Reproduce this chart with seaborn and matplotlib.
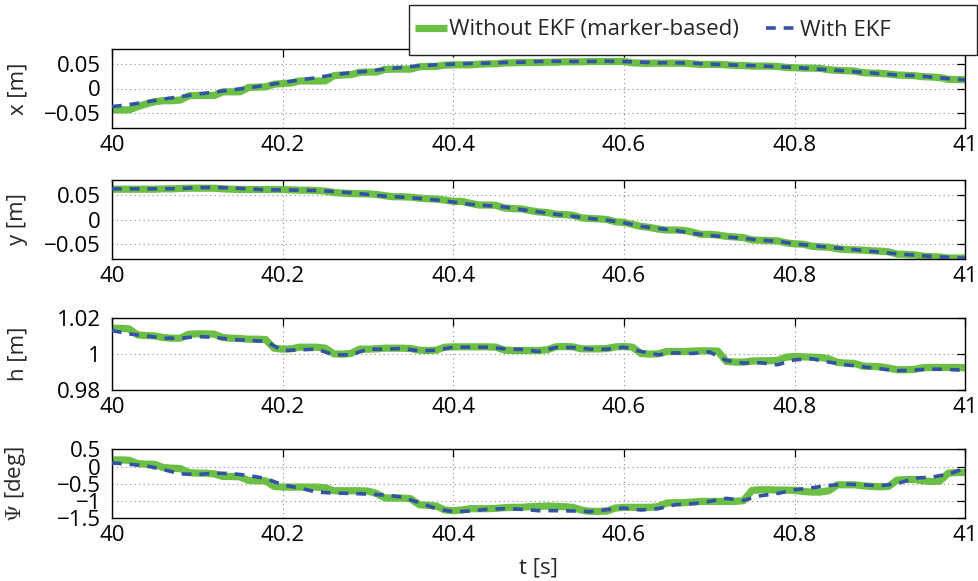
import numpy as np
import pandas as pd
import matplotlib
matplotlib.use("Agg")
import matplotlib.pyplot as plt
from matplotlib.patches import Rectangle
from matplotlib.ticker import FixedLocator, FuncFormatter
import seaborn as sns

# ---------------------------------------------------------------------------
# Data: pose of the vehicle between t = 40 s and t = 41 s
# marker-based estimate sampled at 100 Hz, EKF estimate at 50 Hz
# ---------------------------------------------------------------------------
t_marker = np.linspace(40.0, 41.0, 101)
t_ekf = np.linspace(40.0, 41.0, 51)

x_marker = [
    -0.0433, -0.0433, -0.0433, -0.0367, -0.0313, -0.0267, -0.0247, -0.0247, -0.0233, -0.0147,
    -0.0140, -0.0140, -0.0140, -0.0067, -0.0067, -0.0067, 0.0020, 0.0027, 0.0033, 0.0087,
    0.0100, 0.0113, 0.0153, 0.0153, 0.0153, 0.0153, 0.0260, 0.0273, 0.0280, 0.0327,
    0.0333, 0.0333, 0.0387, 0.0393, 0.0393, 0.0393, 0.0440, 0.0447, 0.0447, 0.0473,
    0.0480, 0.0480, 0.0480, 0.0493, 0.0500, 0.0500, 0.0520, 0.0520, 0.0527, 0.0527,
    0.0527, 0.0533, 0.0533, 0.0540, 0.0540, 0.0540, 0.0547, 0.0547, 0.0547, 0.0547,
    0.0547, 0.0520, 0.0513, 0.0513, 0.0513, 0.0513, 0.0513, 0.0513, 0.0500, 0.0487,
    0.0487, 0.0487, 0.0480, 0.0467, 0.0467, 0.0453, 0.0453, 0.0453, 0.0447, 0.0427,
    0.0420, 0.0413, 0.0413, 0.0407, 0.0380, 0.0367, 0.0360, 0.0353, 0.0320, 0.0313,
    0.0307, 0.0293, 0.0273, 0.0267, 0.0260, 0.0240, 0.0233, 0.0220, 0.0187, 0.0180,
    0.0180,
]
x_ekf = [
    -0.0367, -0.0327, -0.0273, -0.0213, -0.0167, -0.0113, -0.0073, -0.0027, 0.0013, 0.0067,
    0.0120, 0.0173, 0.0220, 0.0280, 0.0320, 0.0353, 0.0393, 0.0427, 0.0460, 0.0480,
    0.0493, 0.0507, 0.0513, 0.0527, 0.0533, 0.0547, 0.0553, 0.0547, 0.0547, 0.0553,
    0.0547, 0.0533, 0.0520, 0.0520, 0.0513, 0.0493, 0.0480, 0.0467, 0.0460, 0.0440,
    0.0427, 0.0400, 0.0380, 0.0353, 0.0327, 0.0300, 0.0273, 0.0260, 0.0233, 0.0200,
    0.0173,
]

y_marker = [
    0.0609, 0.0609, 0.0609, 0.0609, 0.0609, 0.0609, 0.0616, 0.0616, 0.0623, 0.0629,
    0.0629, 0.0629, 0.0629, 0.0616, 0.0609, 0.0603, 0.0603, 0.0603, 0.0603, 0.0603,
    0.0603, 0.0596, 0.0589, 0.0589, 0.0583, 0.0570, 0.0543, 0.0530, 0.0523, 0.0517,
    0.0517, 0.0503, 0.0477, 0.0457, 0.0457, 0.0450, 0.0430, 0.0417, 0.0411, 0.0391,
    0.0364, 0.0364, 0.0325, 0.0291, 0.0291, 0.0285, 0.0232, 0.0219, 0.0212, 0.0179,
    0.0152, 0.0139, 0.0106, 0.0099, 0.0086, 0.0033, 0.0020, 0.0013, 0.0000, -0.0046,
    -0.0060, -0.0099, -0.0139, -0.0159, -0.0192, -0.0212, -0.0212, -0.0219, -0.0252, -0.0298,
    -0.0298, -0.0311, -0.0338, -0.0351, -0.0364, -0.0411, -0.0417, -0.0424, -0.0430, -0.0470,
    -0.0490, -0.0497, -0.0536, -0.0550, -0.0556, -0.0589, -0.0603, -0.0609, -0.0616, -0.0629,
    -0.0636, -0.0649, -0.0695, -0.0702, -0.0709, -0.0735, -0.0748, -0.0755, -0.0775, -0.0775,
    -0.0775,
]
y_ekf = [
    0.0616, 0.0616, 0.0616, 0.0616, 0.0623, 0.0642, 0.0642, 0.0636, 0.0616, 0.0596,
    0.0596, 0.0589, 0.0583, 0.0563, 0.0536, 0.0503, 0.0470, 0.0450, 0.0424, 0.0391,
    0.0351, 0.0305, 0.0278, 0.0252, 0.0199, 0.0152, 0.0106, 0.0066, 0.0020, -0.0013,
    -0.0066, -0.0139, -0.0179, -0.0219, -0.0278, -0.0318, -0.0351, -0.0377, -0.0417, -0.0437,
    -0.0490, -0.0523, -0.0556, -0.0589, -0.0623, -0.0656, -0.0689, -0.0715, -0.0742, -0.0762,
    -0.0781,
]

h_marker = [
    1.01444, 1.01444, 1.01407, 1.01074, 1.01037, 1.01019, 1.00926, 1.00889, 1.00889, 1.01111,
    1.01130, 1.01130, 1.01111, 1.00926, 1.00889, 1.00870, 1.00833, 1.00833, 1.00815, 1.00333,
    1.00278, 1.00296, 1.00389, 1.00389, 1.00389, 1.00333, 1.00019, 1.00000, 1.00037, 1.00278,
    1.00278, 1.00296, 1.00333, 1.00333, 1.00333, 1.00315, 1.00222, 1.00204, 1.00222, 1.00389,
    1.00407, 1.00407, 1.00407, 1.00407, 1.00407, 1.00389, 1.00222, 1.00204, 1.00204, 1.00204,
    1.00204, 1.00241, 1.00407, 1.00426, 1.00407, 1.00296, 1.00296, 1.00296, 1.00315, 1.00407,
    1.00426, 1.00389, 1.00037, 1.00000, 1.00019, 1.00148, 1.00148, 1.00148, 1.00167, 1.00185,
    1.00185, 1.00167, 0.99593, 0.99556, 0.99556, 0.99611, 0.99630, 0.99630, 0.99648, 0.99833,
    0.99870, 0.99852, 0.99833, 0.99815, 0.99741, 0.99537, 0.99500, 0.99481, 0.99333, 0.99315,
    0.99296, 0.99222, 0.99130, 0.99130, 0.99148, 0.99241, 0.99259, 0.99259, 0.99259, 0.99259,
    0.99241,
]
h_ekf = [
    1.01315, 1.01130, 1.01019, 1.00889, 1.00889, 1.00981, 1.00944, 1.00815, 1.00778, 1.00704,
    1.00204, 1.00241, 1.00278, 0.99963, 0.99963, 1.00278, 1.00278, 1.00315, 1.00185, 1.00222,
    1.00389, 1.00389, 1.00389, 1.00296, 1.00259, 1.00148, 1.00370, 1.00370, 1.00278, 1.00278,
    1.00389, 1.00148, 0.99963, 1.00074, 1.00037, 1.00130, 0.99648, 0.99500, 0.99519, 0.99407,
    0.99685, 0.99741, 0.99556, 0.99407, 0.99296, 0.99185, 0.99074, 0.99111, 0.99167, 0.99148,
    0.99093,
]

psi_marker = [
    0.192, 0.192, 0.183, 0.087, 0.067, 0.067, -0.029, -0.048, -0.058, -0.173,
    -0.192, -0.192, -0.212, -0.288, -0.288, -0.298, -0.404, -0.413, -0.413, -0.577,
    -0.596, -0.596, -0.596, -0.596, -0.596, -0.615, -0.702, -0.702, -0.702, -0.702,
    -0.712, -0.779, -0.913, -0.913, -0.913, -0.933, -1.106, -1.125, -1.144, -1.260,
    -1.279, -1.260, -1.221, -1.221, -1.221, -1.212, -1.192, -1.183, -1.183, -1.163,
    -1.154, -1.144, -1.154, -1.163, -1.183, -1.260, -1.298, -1.298, -1.288, -1.202,
    -1.183, -1.183, -1.183, -1.183, -1.163, -1.058, -1.048, -1.048, -1.029, -1.010,
    -1.010, -1.010, -1.010, -1.010, -0.990, -0.692, -0.673, -0.673, -0.683, -0.683,
    -0.692, -0.721, -0.740, -0.740, -0.702, -0.529, -0.529, -0.529, -0.558, -0.577,
    -0.587, -0.577, -0.394, -0.375, -0.375, -0.413, -0.433, -0.423, -0.192, -0.173,
    -0.173,
]
psi_ekf = [
    0.106, 0.067, 0.019, -0.087, -0.212, -0.231, -0.192, -0.202, -0.260, -0.346,
    -0.529, -0.625, -0.740, -0.769, -0.779, -0.798, -0.827, -0.885, -1.048, -1.221,
    -1.308, -1.288, -1.240, -1.221, -1.240, -1.279, -1.279, -1.288, -1.308, -1.250,
    -1.202, -1.260, -1.221, -1.106, -1.077, -1.010, -0.923, -0.981, -0.846, -0.779,
    -0.673, -0.615, -0.548, -0.510, -0.529, -0.558, -0.500, -0.337, -0.308, -0.221,
    -0.048,
]

series_labels = ["Without EKF (marker-based)", "With EKF"]
y_labels = ["x [m]", "y [m]", "h [m]", r"$\Psi$ [deg]"]
y_ticks = [
    [-0.05, 0.0, 0.05],
    [-0.05, 0.0, 0.05],
    [0.98, 1.0, 1.02],
    [-1.5, -1.0, -0.5, 0.0, 0.5],
]
y_limits = [(-0.08, 0.08), (-0.08, 0.08), (0.98, 1.02), (-1.5, 0.5)]
x_ticks = [40.0, 40.2, 40.4, 40.6, 40.8, 41.0]

marker_series = [x_marker, y_marker, h_marker, psi_marker]
ekf_series = [x_ekf, y_ekf, h_ekf, psi_ekf]

# ---------------------------------------------------------------------------
# Style
# ---------------------------------------------------------------------------
sns.set_theme(style="white")
plt.rcParams["font.family"] = ["Open Sans", "DejaVu Sans"]
plt.rcParams["mathtext.fontset"] = "cm"
plt.rcParams["axes.unicode_minus"] = True

GREEN = "#6cbf45"
BLUE = "#3452a4"
FS = 16

fig = plt.figure(figsize=(9.79, 5.81), dpi=100)
W, H = 979.0, 581.0

# axes boxes in pixels: (top, bottom)
boxes = [(49.0, 128.0), (179.7, 259.3), (318.3, 390.0), (449.3, 518.3)]
left_px, right_px = 112.0, 965.3


def fmt(v, _pos):
    s = "%g" % v
    return s.replace("-", "\u2212")


axes = []
for i, (top, bot) in enumerate(boxes):
    ax = fig.add_axes([left_px / W, 1 - bot / H, (right_px - left_px) / W, (bot - top) / H])
    axes.append(ax)

    df_m = pd.DataFrame({"t": t_marker, "v": marker_series[i]})
    df_e = pd.DataFrame({"t": t_ekf, "v": ekf_series[i]})
    sns.lineplot(data=df_m, x="t", y="v", ax=ax, color=GREEN, linewidth=5.2,
                 estimator=None, sort=False, legend=False, label=series_labels[0],
                 solid_joinstyle="round", solid_capstyle="butt", zorder=2)
    sns.lineplot(data=df_e, x="t", y="v", ax=ax, color=BLUE, linewidth=2.6,
                 linestyle=(0, (2.7, 2.2)), estimator=None, sort=False, legend=False,
                 label=series_labels[1], zorder=3)

    ax.set_xlim(40, 41)
    ax.set_ylim(*y_limits[i])
    ax.xaxis.set_major_locator(FixedLocator(x_ticks))
    ax.yaxis.set_major_locator(FixedLocator(y_ticks[i]))
    ax.xaxis.set_major_formatter(FuncFormatter(fmt))
    ax.yaxis.set_major_formatter(FuncFormatter(fmt))

    ax.grid(True, linestyle=(0, (1, 3)), color="#8a8a8a", linewidth=0.8)
    ax.set_axisbelow(True)
    ax.tick_params(direction="in", top=True, right=True, length=6, width=0.9,
                   labelsize=FS, colors="black")
    ax.tick_params(axis="y", pad=8)
    ax.tick_params(axis="x", pad=5)
    for sp in ax.spines.values():
        sp.set_visible(True)
        sp.set_color("black")
        sp.set_linewidth(1.0)

    ax.set_xlabel("")
    ax.set_ylabel(y_labels[i], fontsize=FS)
    ax.yaxis.set_label_coords(-0.098, 0.5)

axes[-1].set_xlabel("t [s]", fontsize=FS, labelpad=8)

# legend with a white framed box across the top right
frame = Rectangle((409 / W, 1 - 55 / H), (977 - 409) / W, (55 - 4.7) / H,
                  transform=fig.transFigure, facecolor="white", edgecolor="#222222",
                  linewidth=1.0, zorder=4)
fig.add_artist(frame)
handles, labels = axes[0].get_legend_handles_labels()
fig.legend(handles, labels, loc="center left", bbox_to_anchor=(415 / W, 1 - 30 / H),
           ncol=2, frameon=False, fontsize=FS, handlelength=1.45, handletextpad=0.1,
           columnspacing=1.2, borderpad=0, borderaxespad=0)

fig.savefig("out.png", dpi=100, facecolor="white")
